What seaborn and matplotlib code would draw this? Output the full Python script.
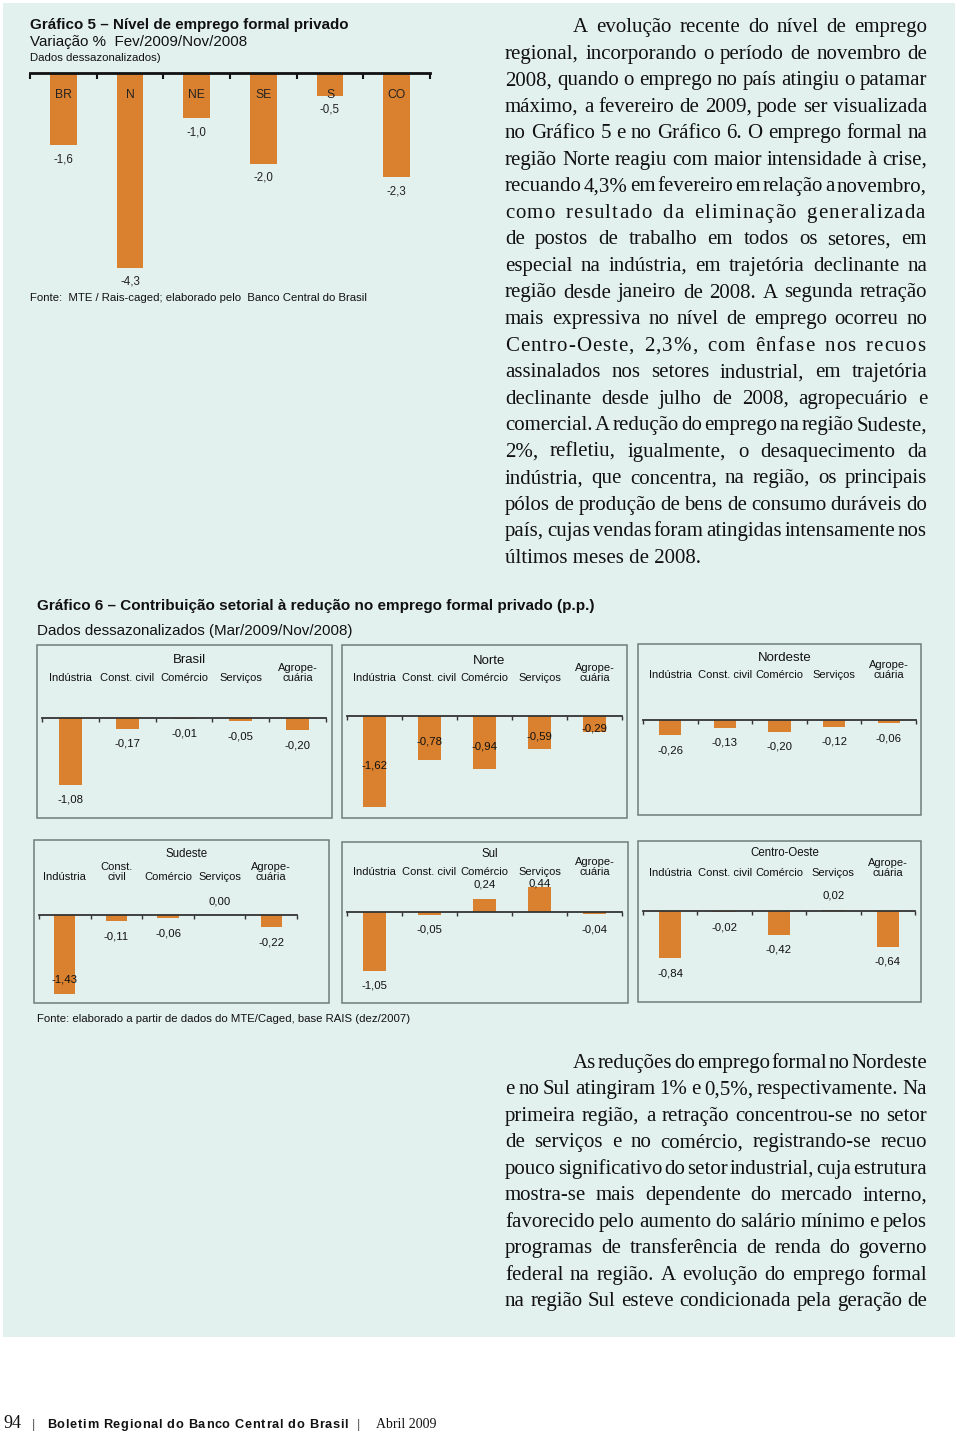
import matplotlib
matplotlib.use("Agg")
import matplotlib.pyplot as plt
from matplotlib.patches import Rectangle
from matplotlib.transforms import blended_transform_factory
import seaborn as sns

# Gráfico 5 - variação % fev/2009 / nov/2008
regioes5 = ["BR", "N", "NE", "SE", "S", "CO"]
variacao5 = [-1.6, -4.3, -1.0, -2.0, -0.5, -2.3]

# Gráfico 6 - contribuição setorial (p.p.)
setores = ["Indústria", "Const. civil", "Comércio", "Serviços", "Agropecuária"]
rotulos_setores = ["Indústria", "Const. civil", "Comércio", "Serviços", "Agrope-\ncuária"]
rotulos_setores_se = ["Indústria", "Const.\ncivil", "Comércio", "Serviços", "Agrope-\ncuária"]
brasil = [-1.08, -0.17, -0.01, -0.05, -0.20]
norte = [-1.62, -0.78, -0.94, -0.59, -0.29]
nordeste = [-0.26, -0.13, -0.20, -0.12, -0.06]
sudeste = [-1.43, -0.11, -0.06, 0.00, -0.22]
sul = [-1.05, -0.05, 0.24, 0.44, -0.04]
centro_oeste = [-0.84, -0.02, -0.42, 0.02, -0.64]

texto1 = [
    "A evolução recente do nível de emprego",
    "regional, incorporando o período de novembro de",
    "2008, quando o emprego no país atingiu o patamar",
    "máximo, a fevereiro de 2009, pode ser visualizada",
    "no Gráfico 5 e no Gráfico 6. O emprego formal na",
    "região Norte reagiu com maior intensidade à crise,",
    "recuando 4,3% em fevereiro em relação a novembro,",
    "como resultado da eliminação generalizada",
    "de postos de trabalho em todos os setores, em",
    "especial na indústria, em trajetória declinante na",
    "região desde janeiro de 2008. A segunda retração",
    "mais expressiva no nível de emprego ocorreu no",
    "Centro-Oeste, 2,3%, com ênfase nos recuos",
    "assinalados nos setores industrial, em trajetória",
    "declinante desde julho de 2008, agropecuário e",
    "comercial. A redução do emprego na região Sudeste,",
    "2%, refletiu, igualmente, o desaquecimento da",
    "indústria, que concentra, na região, os principais",
    "pólos de produção de bens de consumo duráveis do",
    "país, cujas vendas foram atingidas intensamente nos",
    "últimos meses de 2008.",
]
texto2 = [
    "As reduções do emprego formal no Nordeste",
    "e no Sul atingiram 1% e 0,5%, respectivamente. Na",
    "primeira região, a retração concentrou-se no setor",
    "de serviços e no comércio, registrando-se recuo",
    "pouco significativo do setor industrial, cuja estrutura",
    "mostra-se mais dependente do mercado interno,",
    "favorecido pelo aumento do salário mínimo e pelos",
    "programas de transferência de renda do governo",
    "federal na região. A evolução do emprego formal",
    "na região Sul esteve condicionada pela geração de",
]

W, H = 960, 1432
LARANJA = "#d9812f"
FUNDO = "#e3f1ee"
SANS = ["Liberation Sans", "DejaVu Sans"]
SERIF = ["Liberation Serif", "DejaVu Serif"]
TXT = "#111"

sns.set_theme(style="white")
plt.rcParams["font.family"] = SANS

fig = plt.figure(figsize=(W / 100, H / 100), dpi=100, facecolor="white")
renderer = fig.canvas.get_renderer()


def px(x):
    return x / W


def py(y):
    return 1 - y / H


def eixo(left, top, right, bottom):
    return fig.add_axes([px(left), py(bottom), (right - left) / W, (bottom - top) / H])


_cache = {}


def medir(t, **kw):
    chave = (t, tuple(sorted((k, str(v)) for k, v in kw.items())))
    if chave not in _cache:
        o = fig.text(0, 0, t, **kw)
        _cache[chave] = o.get_window_extent(renderer).width
        o.remove()
    return _cache[chave]


def avanco(c, **kw):
    return medir("x" + c + "x", **kw) - medir("xx", **kw)


def espacado(texto, x_esq, x_dir, y, peso_espaco=1, **kw):
    # desenha caractere a caractere, distribuindo o espaço entre letras
    adv = [avanco(c, **kw) for c in texto]
    pesos = [peso_espaco if c == " " else 1 for c in texto[:-1]]
    ls = (x_dir - x_esq - sum(adv[:-1]) - medir(texto[-1], **kw)) / max(sum(pesos), 1)
    x = x_esq
    for i, (c, a) in enumerate(zip(texto, adv)):
        if c != " ":
            fig.text(px(x), y, c, va="baseline", **kw)
        if i < len(pesos):
            x += a + ls * pesos[i]


fig.patches.append(Rectangle((px(3), py(1337)), px(952), 1334 / H,
                             transform=fig.transFigure, facecolor=FUNDO,
                             edgecolor="none", zorder=-10))

# ---------------- Gráfico 5 ----------------
fig.text(px(30), py(25), "Gráfico 5 – Nível de emprego formal privado", fontsize=10.9,
         fontweight="bold", va="center", color=TXT)
fig.text(px(30), py(42), "Variação %  Fev/2009/Nov/2008", fontsize=10.9, va="center", color=TXT)
fig.text(px(30), py(58), "Dados dessazonalizados)", fontsize=8.2, va="center", color=TXT)
fig.text(px(30), py(298), "Fonte:  MTE / Rais-caged; elaborado pelo  Banco Central do Brasil",
         fontsize=8.2, va="center", color=TXT)

esc5 = 45.3
ax5 = eixo(30, 73, 430, 290)
sns.barplot(x=regioes5, y=variacao5, color=LARANJA, saturation=1, width=0.4,
            linewidth=0, ax=ax5)
ax5.set_ylim(-(290 - 73) / esc5, 0)
ax5.set_xlim(-0.5, len(regioes5) - 0.5)
ax5.patch.set_alpha(0)
for s in ["left", "right", "bottom"]:
    ax5.spines[s].set_visible(False)
ax5.spines["top"].set_color(TXT)
ax5.spines["top"].set_linewidth(2)
ax5.set_xticks([i - 0.5 for i in range(len(regioes5) + 1)])
ax5.set_xticklabels([])
ax5.xaxis.set_ticks_position("top")
ax5.tick_params(axis="x", direction="in", length=4, width=1.5, color=TXT, top=True, bottom=False)
ax5.set_yticks([])
ax5.set_xlabel("")
ax5.set_ylabel("")
for i, (r, v) in enumerate(zip(regioes5, variacao5)):
    ax5.text(i, -22 / esc5, r, ha="center", va="center", fontsize=8.7, color="#222")
    ax5.text(i, v - 14 / esc5, f"{v:.1f}".replace(".", ","), ha="center", va="center",
             fontsize=8.3, color="#222")

# ---------------- Gráfico 6 ----------------
fig.text(px(37), py(606), "Gráfico 6 – Contribuição setorial à redução no emprego formal privado (p.p.)",
         fontsize=11, fontweight="bold", va="center", color=TXT)
fig.text(px(37), py(631), "Dados dessazonalizados (Mar/2009/Nov/2008)", fontsize=10.9,
         va="center", color=TXT)
fig.text(px(37), py(1019), "Fonte: elaborado a partir de dados do MTE/Caged, base RAIS (dez/2007)",
         fontsize=8.2, va="center", color=TXT)

paineis = [
    # nome, valores, rótulos, caixa, linha x, zero, escala, y título, y rótulos, fonte título, modo
    ("Brasil", brasil, rotulos_setores, (37, 645, 332, 818), (42, 326), 718, 62, 660, 677, 9.5, "fora"),
    ("Norte", norte, rotulos_setores, (342, 645, 627, 818), (347, 622), 716, 56, 661, 677, 9.5, "meio"),
    ("Nordeste", nordeste, rotulos_setores, (638, 644, 921, 815), (643, 916), 720, 58, 658, 674, 9.5, "fora"),
    ("Sudeste", sudeste, rotulos_setores_se, (34, 840, 329, 1003), (39, 297), 915, 55, 854, 876, 8.3, "fora"),
    ("Sul", sul, rotulos_setores, (342, 842, 628, 1003), (347, 622), 912, 56, 854, 871, 8.3, "fora"),
    ("Centro-Oeste", centro_oeste, rotulos_setores, (638, 841, 921, 1002), (643, 915), 911, 56, 853, 872, 8.3, "fora"),
]

for nome, vals, rots, caixa, lx, zero, esc, yt, yr, ft, modo in paineis:
    x0, y0, x1, y1 = caixa
    fig.patches.append(Rectangle((px(x0), py(y1)), (x1 - x0) / W, (y1 - y0) / H,
                                 transform=fig.transFigure, facecolor="none",
                                 edgecolor="#6f7d7a", linewidth=1.1, zorder=1))
    fig.text(px((x0 + x1) / 2 + 5), py(yt), nome, ha="center", va="center", fontsize=ft, color=TXT)
    ax = eixo(lx[0], y0 + 1, lx[1], y1 - 1)
    sns.barplot(x=setores, y=vals, color=LARANJA, saturation=1, width=0.41,
                linewidth=0, ax=ax)
    ax.set_ylim(-(y1 - 1 - zero) / esc, (zero - y0 - 1) / esc)
    ax.set_xlim(-0.5, len(setores) - 0.5)
    ax.patch.set_alpha(0)
    for s in ["left", "right", "top"]:
        ax.spines[s].set_visible(False)
    ax.spines["bottom"].set_position(("data", 0))
    ax.spines["bottom"].set_color("#333")
    ax.spines["bottom"].set_linewidth(1.3)
    ax.set_xticks([i - 0.5 for i in range(len(setores) + 1)])
    ax.set_xticklabels([])
    ax.tick_params(axis="x", direction="out", length=3, width=1, color="#333", bottom=True)
    ax.set_yticks([])
    ax.set_xlabel("")
    ax.set_ylabel("")
    tr = blended_transform_factory(ax.transData, fig.transFigure)
    for i, r in enumerate(rots):
        ax.text(i, py(yr + 4), r, transform=tr, ha="center", va="baseline",
                fontsize=8, color=TXT, linespacing=1.0)
    fundo = -(y1 - 12 - zero) / esc
    for i, v in enumerate(vals):
        if modo == "meio":
            yl = v / 2 - 4 / esc
        elif v >= 0:
            yl = min(v + 14 / esc, 29 / esc)
        else:
            yl = v - 15 / esc
            if yl < fundo:
                yl = v + 14 / esc
        ax.text(i, yl, f"{v:.2f}".replace(".", ","), ha="center", va="center",
                fontsize=8.2, color=TXT)


# ---------------- texto justificado ----------------
FS_TXT = 15
kw_txt = dict(fontsize=FS_TXT, family=SERIF, color=TXT)


def justificar(linhas, x_esq, x_dir, y_ini, dy, recuo, ultima_livre):
    sp = medir("a a", **kw_txt) - medir("aa", **kw_txt)
    for k, linha in enumerate(linhas):
        yb = py(y_ini + k * dy + 6)
        esq = x_esq + (recuo if k == 0 else 0)
        if k == len(linhas) - 1 and ultima_livre:
            fig.text(px(esq), yb, linha, va="baseline", **kw_txt)
            continue
        palavras = linha.split()
        larg = [medir(p, **kw_txt) for p in palavras]
        esp = (x_dir - esq - sum(larg)) / max(len(palavras) - 1, 1)
        if esp > 2.3 * sp:
            espacado(linha, esq, x_dir - 2, yb, peso_espaco=4, **kw_txt)
            continue
        x = esq
        for p, w in zip(palavras, larg):
            fig.text(px(x), yb, p, va="baseline", **kw_txt)
            x += w + esp


justificar(texto1, 505, 927, 26, 26.55, 68, True)
justificar(texto2, 505, 927, 1062, 26.45, 68, False)

# ---------------- rodapé ----------------
fig.text(px(3), py(1428), "94", fontsize=13, family=SERIF, va="baseline", color=TXT)
fig.text(px(32), py(1428), "|", fontsize=9, va="baseline", color="#555")
espacado("Boletim Regional do Banco Central do Brasil", 47, 348, py(1428),
         fontsize=9.2, fontweight="bold", color=TXT)
fig.text(px(357), py(1428), "|", fontsize=9, va="baseline", color="#555")
fig.text(px(376), py(1428), "Abril 2009", fontsize=10, family=SERIF, va="baseline", color=TXT)

fig.savefig("out.png", dpi=100, facecolor="white")
